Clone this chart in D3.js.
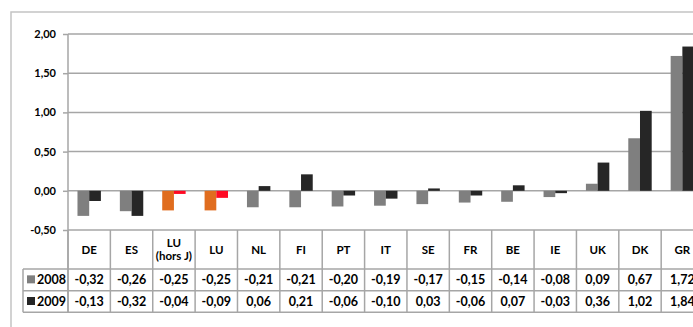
<!DOCTYPE html>
<html>
<head>
<meta charset="utf-8">
<script src="https://cdn.jsdelivr.net/npm/d3@7"></script>
<style>
  html, body { margin: 0; padding: 0; background: #fff; }
  svg text { font-family: Lato, "Liberation Sans", sans-serif; font-weight: 700; fill: #000; }
</style>
</head>
<body>
<svg id="chart" width="693" height="327"></svg>
<script>
// Country codes along the x axis (label lines split on "\n")
const categories = ["DE", "ES", "LU\n(hors J)", "LU", "NL", "FI", "PT", "IT", "SE", "FR", "BE", "IE", "UK", "DK", "GR"];
const seriesNames = ["2008", "2009"];
const values2008 = [-0.32, -0.26, -0.25, -0.25, -0.21, -0.21, -0.20, -0.19, -0.17, -0.15, -0.14, -0.08, 0.09, 0.67, 1.72];
const values2009 = [-0.13, -0.32, -0.04, -0.09, 0.06, 0.21, -0.06, -0.10, 0.03, -0.06, 0.07, -0.03, 0.36, 1.02, 1.84];
const yTicks = [-0.5, 0, 0.5, 1, 1.5, 2];
// Categories drawn in the highlight colours
const highlighted = ["LU\n(hors J)", "LU"];

const W = 693, H = 327;
const svg = d3.select("#chart");

const fr = d3.formatLocale({ decimal: ",", thousands: " ", grouping: [3], currency: ["", "€"], minus: "-" });
const fmt = fr.format(".2f");

const axisX = 68, step = 42.37;
const x0 = d3.scaleBand().domain(categories).range([axisX, axisX + step * categories.length]).padding(0);
const x1 = d3.scaleBand().domain(seriesNames).range([0, x0.bandwidth()]).paddingInner(0).paddingOuter(0.81);
const y = d3.scaleLinear().domain([-0.5, 2]).range([230, 34]);

const colors = { "2008": "#7f7f7f", "2009": "#262626" };
const hiColors = { "2008": "#e06d1f", "2009": "#ff0a24" };
const gridColor = "#a6a6a6";

// Outer chart frame
svg.append("rect")
  .attr("x", 11).attr("y", 12).attr("width", W + 20).attr("height", H + 20)
  .attr("fill", "none").attr("stroke", "#c4c4c4").attr("stroke-width", 1.5);

// Horizontal gridlines
svg.append("g").selectAll("line").data(yTicks).join("line")
  .attr("x1", axisX).attr("x2", W + 5)
  .attr("y1", d => y(d)).attr("y2", d => y(d))
  .attr("stroke", gridColor).attr("stroke-width", 1.5);

// Y axis
const yAxis = d3.axisLeft(y).tickValues(yTicks).tickFormat(fmt).tickSize(5).tickPadding(7);
const gy = svg.append("g").attr("transform", `translate(${axisX},0)`).call(yAxis);
gy.select(".domain").remove();
gy.selectAll(".tick line").attr("stroke", gridColor).attr("stroke-width", 1.5);
gy.selectAll(".tick text").attr("font-size", 11).style("font-family", "Lato, sans-serif").style("font-weight", 700).attr("fill", "#000");

// Bars
const rows = categories.map((c, i) => ({ cat: c, vals: [values2008[i], values2009[i]] }));
const groups = svg.append("g").selectAll("g").data(rows).join("g")
  .attr("transform", d => `translate(${x0(d.cat)},0)`);
groups.selectAll("rect").data(d => seriesNames.map((s, j) => ({ s, v: d.vals[j], hi: highlighted.includes(d.cat) })))
  .join("rect")
  .attr("x", d => x1(d.s))
  .attr("width", x1.bandwidth())
  .attr("y", d => y(Math.max(0, d.v)))
  .attr("height", d => Math.abs(y(d.v) - y(0)))
  .attr("fill", d => d.hi ? hiColors[d.s] : colors[d.s]);

// Data table below the plot
const tTop = y(-0.5), tHead = 269, tRow1 = 290.7, tBot = 312.3, legLeft = 23;
const tbl = svg.append("g").attr("stroke", gridColor).attr("stroke-width", 1.5);
// vertical separators
const bounds = categories.map(c => x0(c)).concat([x0.range()[1]]);
tbl.selectAll("line.v").data(bounds).join("line").attr("class", "v")
  .attr("x1", d => d).attr("x2", d => d).attr("y1", tTop).attr("y2", tBot);
tbl.append("line").attr("x1", axisX).attr("x2", axisX).attr("y1", 34).attr("y2", tBot);
// horizontal separators
[tHead, tRow1, tBot].forEach(yy => {
  tbl.append("line").attr("x1", legLeft).attr("x2", W + 5).attr("y1", yy).attr("y2", yy);
});
tbl.append("line").attr("x1", legLeft).attr("x2", legLeft).attr("y1", tHead).attr("y2", tBot);

// Category labels
const catText = svg.append("g").selectAll("text").data(categories).join("text")
  .attr("text-anchor", "middle").attr("font-size", 11.5)
  .attr("x", d => x0(d) + x0.bandwidth() / 2);
catText.each(function (d) {
  const lines = d.split("\n");
  const t = d3.select(this);
  const mid = (tTop + tHead) / 2 + 4;
  lines.forEach((ln, k) => {
    t.append("tspan").attr("x", x0(d) + x0.bandwidth() / 2)
      .attr("y", mid + (k - (lines.length - 1) / 2) * 13.5).text(ln);
  });
});

// Value rows with legend keys
const seriesRows = [
  { name: "2008", vals: values2008, yc: (tHead + tRow1) / 2 },
  { name: "2009", vals: values2009, yc: (tRow1 + tBot) / 2 }
];
seriesRows.forEach(r => {
  svg.append("rect").attr("x", 27).attr("y", r.yc - 4.5).attr("width", 8).attr("height", 8).attr("fill", colors[r.name]);
  svg.append("text").attr("x", 37).attr("y", r.yc + 4.5).attr("font-size", 12.5).text(r.name);
  svg.append("g").selectAll("text").data(r.vals).join("text")
    .attr("text-anchor", "middle").attr("font-size", 12.5)
    .attr("x", (d, i) => x0(categories[i]) + x0.bandwidth() / 2)
    .attr("y", r.yc + 4.5)
    .text(d => fmt(d));
});
</script>
</body>
</html>
